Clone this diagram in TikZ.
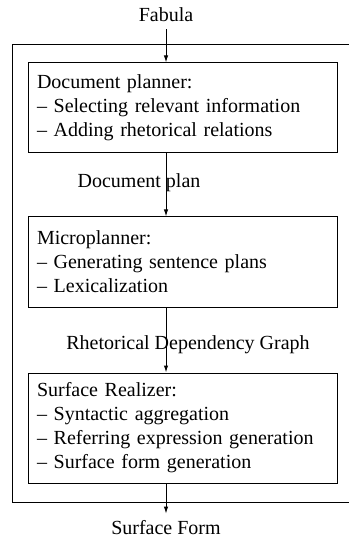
\documentclass[tikz,border=0pt]{standalone}
\usepackage{fontspec}
\setmainfont{Liberation Serif}
\usetikzlibrary{arrows.meta}
\tikzset{stage/.style={draw,text width=145.5pt,inner xsep=4.5pt,align=left}}

\begin{document}
\begin{tikzpicture}[x=0.5pt,y=-0.5pt,line width=0.5pt,>={Latex[length=3.5pt,width=2.2pt]}]
\useasboundingbox (0,0) rectangle (348,539);
\draw (12,45) rectangle (360,502);
\node (fabula) at (166,15) {Fabula};
\node[stage,minimum height=45pt] (docplanner) at (182.5,108) {Document planner:\\-- Selecting relevant information\\-- Adding rhetorical relations};
\node (docplan) at (139,183) {Document plan};
\node[stage,minimum height=45pt] (microplanner) at (182.5,262) {Microplanner:\\-- Generating sentence plans\\-- Lexicalization};
\node (rdg) at (188,345) {Rhetorical Dependency Graph};
\node[stage,minimum height=55pt] (realizer) at (182.5,428) {Surface Realizer:\\-- Syntactic aggregation\\-- Referring expression generation\\-- Surface form generation};
\node (surface) at (166,528) {Surface Form};
\draw[->] (fabula) -- (fabula |- docplanner.north);
\draw[->] (fabula |- docplanner.south) -- (fabula |- microplanner.north);
\draw[->] (fabula |- microplanner.south) -- (fabula |- realizer.north);
\draw[->] (fabula |- realizer.south) -- (surface);
\end{tikzpicture}
\end{document}
